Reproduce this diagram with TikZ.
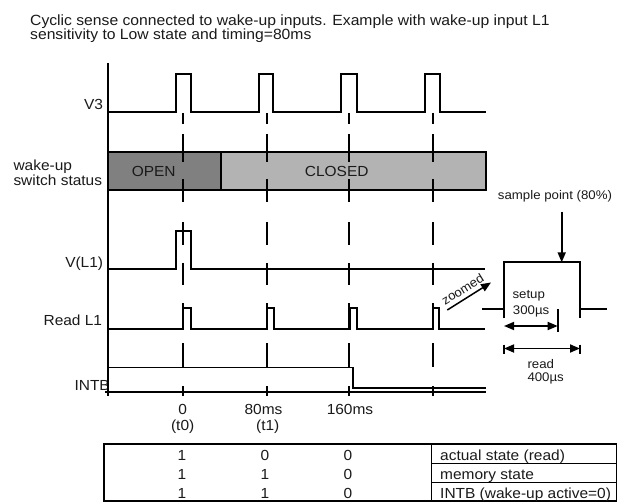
\documentclass[tikz,border=0pt]{standalone}
\usepackage{fontspec}
\setmainfont{Liberation Sans}[FakeStretch=1.06]
\usetikzlibrary{arrows.meta}
\definecolor{opengray}{HTML}{808080}
\definecolor{closedgray}{HTML}{B3B3B3}
\definecolor{txt}{HTML}{1A1A1A}
\begin{document}
\begin{tikzpicture}[x=1pt,y=-1pt,
  sig/.style={line width=1.7pt, line join=miter, line cap=butt},
  thin/.style={line width=1.5pt},
  lab/.style={font=\fontsize{14.6}{15}\selectfont, inner sep=0pt, text=txt},
  ttl/.style={font=\fontsize{14.8}{15}\selectfont, inner sep=0pt, text=txt},
  small/.style={font=\fontsize{12.5}{13}\selectfont, inner sep=0pt, text=txt},
  tri/.style={-{Triangle[length=10pt,width=8pt]}},
  dtri/.style={{Triangle[length=10pt,width=8pt]}-{Triangle[length=10pt,width=8pt]}}
]
\useasboundingbox[fill=white] (0,0) rectangle (620,502);

% title
\node[ttl, anchor=base west] (title1) at (30,26) {Cyclic sense connected to wake-up inputs. Example with wake-up input L1};
\node[ttl, anchor=base west] (title2) at (30,39.3) {sensitivity to Low state and timing=80ms};

% row labels
\node[lab, anchor=base east] (lV3) at (103.3,110) {V3};
\node[lab, anchor=base west] (lwk1) at (13.3,170.7) {wake-up};
\node[lab, anchor=base west] (lwk2) at (13.3,185.7) {switch status};
\node[lab, anchor=base east] (lVL1) at (103.3,267.5) {V(L1)};
\node[lab, anchor=base east] (lRd) at (102.3,325) {Read L1};
\node[lab, anchor=base east] (lINTB) at (110,390.5) {INTB};

% switch status bar
\draw[sig, fill=opengray] (108,151.7) rectangle (220.7,190.3);
\draw[sig, fill=closedgray] (220.7,151.7) rectangle (486,190.3);
\node[lab, anchor=base] (open) at (153.7,176.5) {OPEN};
\node[lab, anchor=base] (closed) at (336.7,176.5) {CLOSED};

% dashed sample lines
\foreach \c in {182.7,266.7,349.3,432.7}{
  \foreach \a/\b in {113/124,134/162,179/202,222/245,263/285,303/330,343/367,386/395.5}{
    \draw[sig] (\c,\a) -- (\c,\b);
  }
}

% axes
\draw[sig] (108,63) -- (108,395.5);
\draw[sig] (105,392.3) -- (486,392.3);

% V3
\draw[sig] (108,112) -- (176,112) -- (176,74) -- (190.7,74) -- (190.7,112)
  -- (258.7,112) -- (258.7,74) -- (273.3,74) -- (273.3,112)
  -- (341.3,112) -- (341.3,74) -- (356.7,74) -- (356.7,112)
  -- (424.7,112) -- (424.7,74) -- (440,74) -- (440,112) -- (486,112);

% V(L1)
\draw[sig] (108,269.3) -- (175.7,269.3) -- (175.7,230.7) -- (191,230.7) -- (191,269.3) -- (485,269.3);

% Read L1
\draw[sig] (108,328.7) -- (182.7,328.7) -- (182.7,308) -- (191,308) -- (191,328.7)
  -- (266.7,328.7) -- (266.7,308) -- (274,308) -- (274,328.7)
  -- (350,328.7) -- (350,308) -- (357.3,308) -- (357.3,328.7)
  -- (433.3,328.7) -- (433.3,308) -- (439.3,308) -- (439.3,328.7) -- (485,328.7);

% INTB
\draw[sig] (108,367.5) -- (352.7,367.5) -- (352.7,388.3) -- (486,388.3);

% time labels
\node[lab, anchor=base] (t0a) at (182.7,414) {0};
\node[lab, anchor=base] (t0b) at (182.7,430) {(t0)};
\node[lab, anchor=base] (t1a) at (263.5,414) {80ms};
\node[lab, anchor=base] (t1b) at (267.7,430) {(t1)};
\node[lab, anchor=base] (t2a) at (350,414) {160ms};

% zoomed detail
\draw[sig] (482,309.3) -- (504,309.3);
\draw[sig] (504,318.3) -- (504,262.3) -- (580,262.3) -- (580,318.3);
\draw[sig] (580,309.3) -- (606.7,309.3);
\draw[sig] (557.7,309.3) -- (557.7,331.7);
\coordinate (su1) at (504,326);
\coordinate (su2) at (557.7,326);
\draw[sig, dtri] (su1) -- (su2);
\draw[sig] (504,344.5) -- (504,353.5);
\draw[sig] (580,344.5) -- (580,353.5);
\coordinate (rd1) at (504,348.5);
\coordinate (rd2) at (580,348.5);
\draw[sig, dtri] (rd1) -- (rd2);
\node[small, anchor=base] (sp) at (555,200) {sample point (80\%)};
\coordinate (sptip) at (561.7,262.3);
\draw[sig, tri] (561.7,211.7) -- (sptip);
\node[small, anchor=base west] (setup) at (512.3,298.3) {setup};
\node[small, anchor=base west] (setupv) at (512.7,314) {300µs};
\node[small, anchor=base west] (read) at (527.3,368.3) {read};
\node[small, anchor=base west] (readv) at (527.3,381) {400µs};
\coordinate (zt) at (447.3,310);
\coordinate (zh) at (491,282.5);
\draw[line width=1.5pt, tri] (zt) -- (zh);
\node[small, rotate=32, anchor=base] (zoomed) at (465,293) {zoomed};

% table
\draw[thin] (104,444) rectangle (616.5,501);
\draw[thin] (431.7,444) -- (431.7,501);
\draw[thin] (431.7,463.3) -- (616.5,463.3);
\draw[thin] (431.7,482.3) -- (616.5,482.3);
\node[lab, anchor=base] (r1a) at (182,460) {1};
\node[lab, anchor=base] (r1b) at (265,460) {0};
\node[lab, anchor=base] (r1c) at (348,460) {0};
\node[lab, anchor=base west] (r1d) at (440,460) {actual state (read)};
\node[lab, anchor=base] (r2a) at (182,479.3) {1};
\node[lab, anchor=base] (r2b) at (265,479.3) {1};
\node[lab, anchor=base] (r2c) at (348,479.3) {0};
\node[lab, anchor=base west] (r2d) at (440,479.3) {memory state};
\node[lab, anchor=base] (r3a) at (182,498.3) {1};
\node[lab, anchor=base] (r3b) at (265,498.3) {1};
\node[lab, anchor=base] (r3c) at (348,498.3) {0};
\node[lab, anchor=base west] (r3d) at (440,498.3) {INTB (wake-up active=0)};
\end{tikzpicture}
\end{document}
